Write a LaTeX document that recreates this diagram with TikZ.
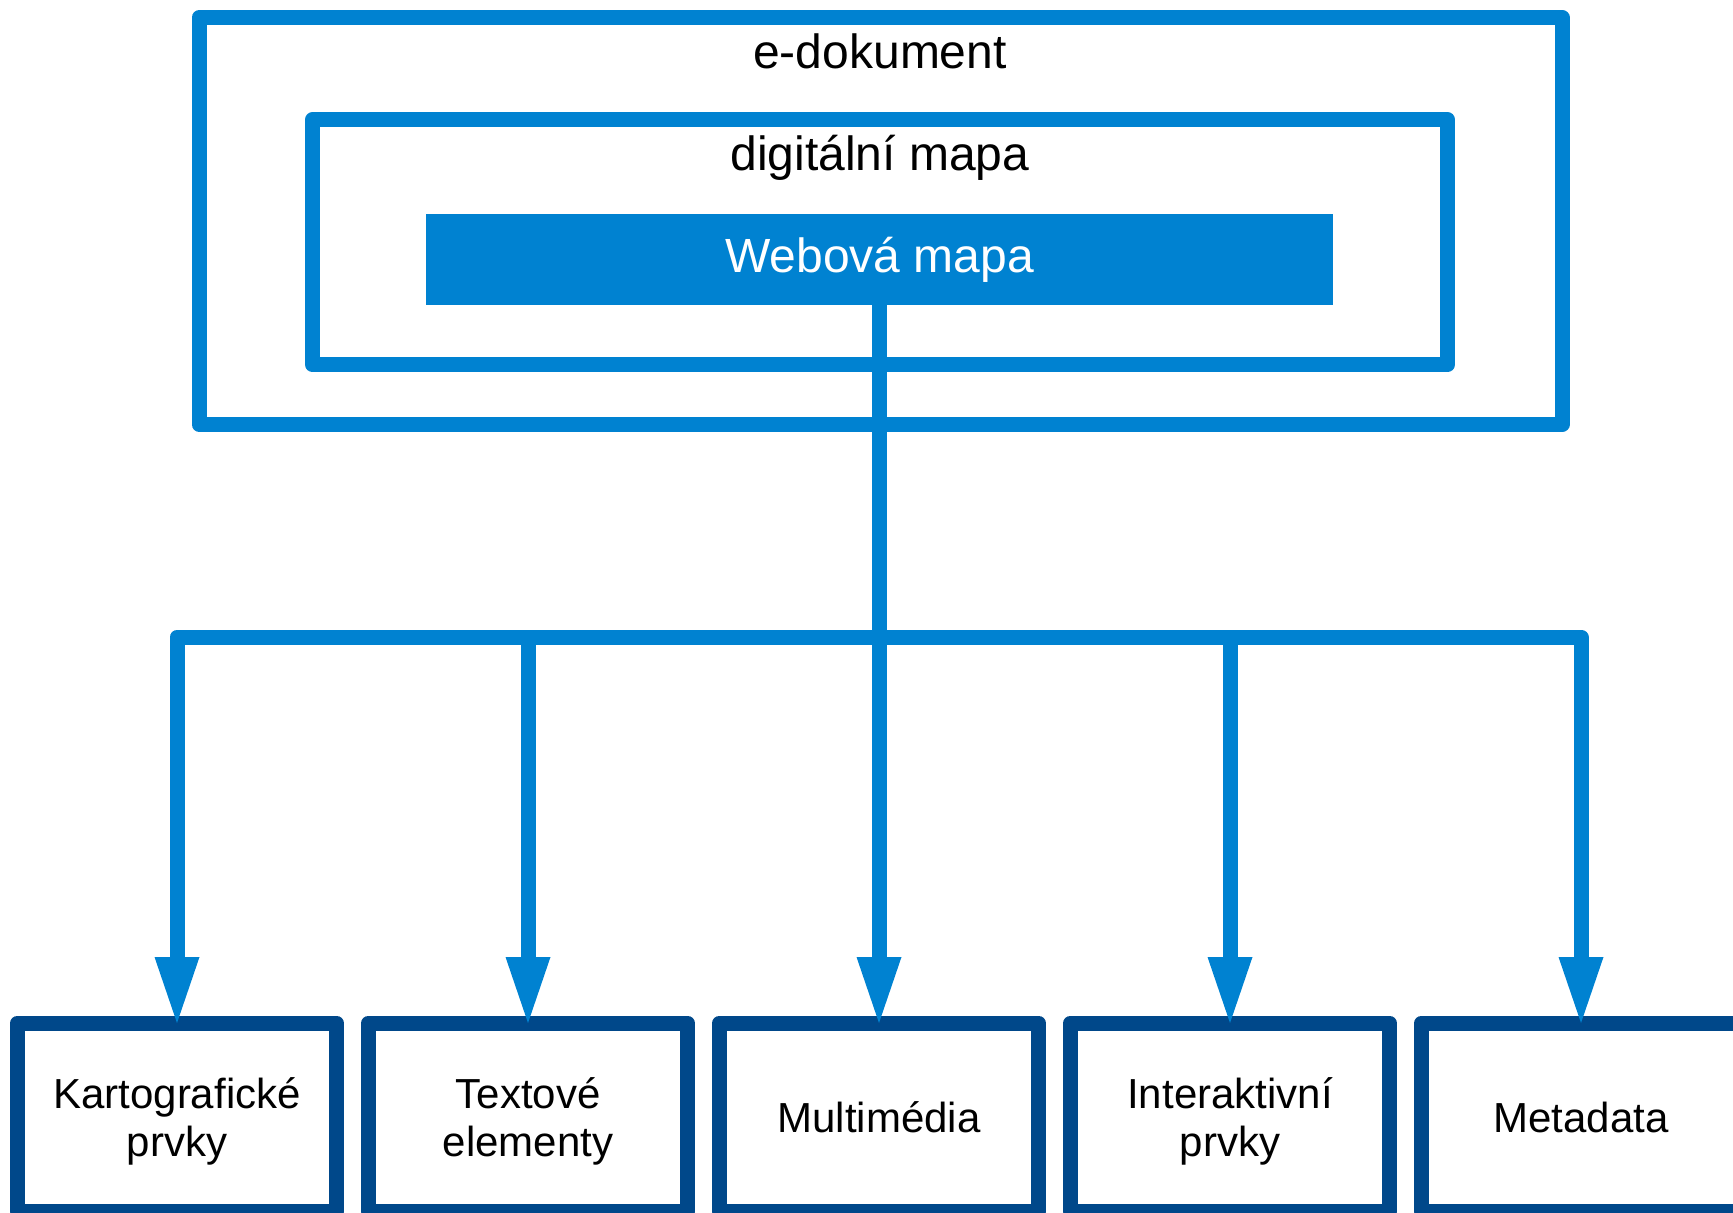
\documentclass[tikz,border=0pt]{standalone}
\usepackage{fontspec}
\setmainfont{Liberation Sans}
\usepackage{tikz}
\usetikzlibrary{positioning}
\usetikzlibrary{arrows.meta}
\usepackage{xcolor}
\definecolor{mapblue}{RGB}{0,130,209}
\definecolor{partblue}{RGB}{0,72,138}

\begin{document}
\begin{tikzpicture}[x=0.5pt, y=-0.5pt,
	framebox/.style={draw=mapblue, line width=7.5pt, line join=round, outer sep=0pt},
	partbox/.style={draw=partblue, line width=7.5pt, line join=round, outer sep=0pt, minimum width=159.5pt, minimum height=94.25pt, align=center, font=\fontsize{21}{24}\selectfont},
	twoline/.style={text height=44pt},
	headtext/.style={anchor=base, font=\fontsize{24}{28}\selectfont},
	wire/.style={draw=mapblue, line width=7.5pt, line join=round},
	feed/.style={wire, -{Triangle[width=22.5pt, length=33pt, line width=0pt]}}]
	\useasboundingbox (0,0) rectangle (1733,1213);
	\clip (0,0) rectangle (1733,1213);
	\node[framebox, minimum width=681.5pt, minimum height=203.5pt] (edoc) at (880.5,221) {};
	\node[framebox, minimum width=567.25pt, minimum height=122.75pt] (dmap) at (880,242.25) {};
	\node[fill=mapblue, text=white, inner sep=0pt, minimum width=453.5pt, minimum height=45.5pt, font=\fontsize{24}{28}\selectfont] (web) at (879.5,259.5) {Webová mapa};
	\node[headtext] (edoctext) at (880,68.5) {e-dokument};
	\node[headtext] (dmaptext) at (880,171) {digitální mapa};
	\node[partbox, twoline] (kart) at (177,1117.25) {Kartografické\\prvky};
	\node[partbox, twoline, right=16pt of kart] (textel) {Textové\\elementy};
	\node[partbox, right=16pt of textel] (multi) {Multimédia};
	\node[partbox, twoline, right=16pt of multi] (inter) {Interaktivní\\prvky};
	\node[partbox, right=16pt of inter] (meta) {Metadata};
	\path (multi.north) ++(0,-386) coordinate (hub);
	\draw[wire] (web.south -| hub) -- (hub);
	\foreach \n in {kart,textel,multi,inter,meta}
		\draw[feed] (hub) -| (\n.north);
\end{tikzpicture}
\end{document}
